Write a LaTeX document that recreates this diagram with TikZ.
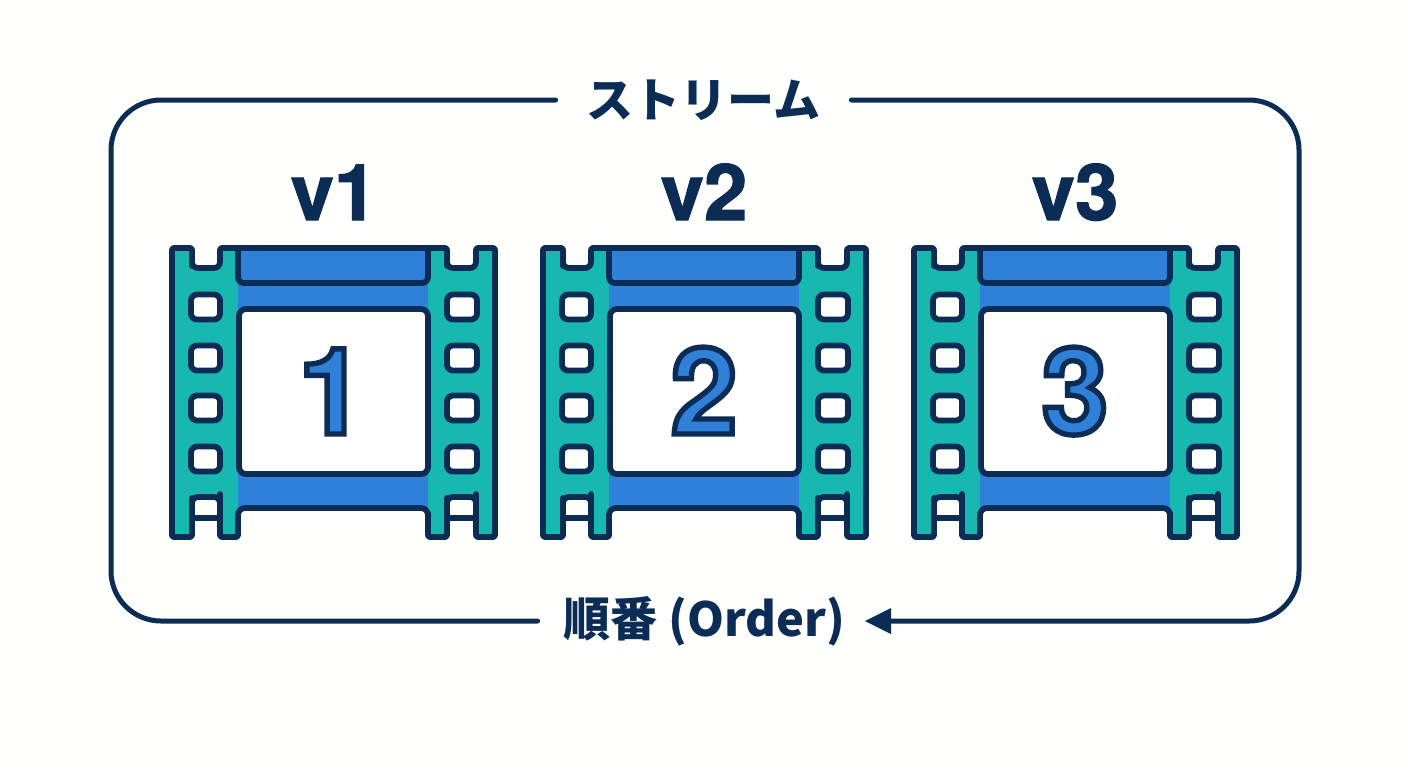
\documentclass[tikz,border=0pt]{standalone}
\usepackage{fontspec}
\setmainfont{TeX Gyre Heros}
\newfontfamily\jpfont{Noto Sans CJK JP}
\newfontfamily\numfont{TeX Gyre Heros Bold}[FakeBold=4.5]
\newfontfamily\verfont{TeX Gyre Heros Bold}[FakeBold=1.5]
\definecolor{ink}{HTML}{0B2C55}
\definecolor{tealfilm}{HTML}{17B8AF}
\definecolor{bluefilm}{HTML}{2F80D8}
\definecolor{paper}{HTML}{FEFEFC}
\newcommand{\outlined}[1]{{\color{bluefilm}\special{pdf:code 0.043 0.173 0.333 RG}\numfont #1}}
\newcommand{\filmoutline}{
  [rounded corners=1pt] (182,248)--(172,248)--(172,537)--(192,537)--(192,500)
  [rounded corners=3pt] --(192,497)--(220,497)--(220,500)
  [rounded corners=1pt] --(220,537)--(238,537)--(238,520)
  [rounded corners=3.5pt] --(238,508)--(428,508)--(428,520)
  [rounded corners=1pt] --(428,537)--(447,537)--(447,500)
  [rounded corners=3pt] --(447,497)--(476,497)--(476,500)
  [rounded corners=1pt] --(476,537)--(495,537)--(495,248)--(476,248)--(476,260)
  [rounded corners=3pt] --(476,268)--(447,268)--(447,260)
  [rounded corners=1pt] --(447,248)--(220,248)--(220,260)
  [rounded corners=3pt] --(220,268)--(192,268)--(192,260)
  [rounded corners=1pt] --(192,248)--cycle
}
\tikzset{
  x=0.5pt,y=-0.5pt,
  inkline/.style={draw=ink,line width=2.9pt,line join=round,line cap=round},
  frameline/.style={draw=ink,line width=2.5pt,line cap=round},
  perf/.style={inkline,fill=paper,rounded corners=3pt},
  verlabel/.style={text=ink,font=\verfont\fontsize{39}{39}\selectfont,anchor=base,inner sep=0pt},
  numlabel/.style={font=\fontsize{60}{60}\selectfont,anchor=base,inner sep=0pt},
  seclabel/.style={text=ink,font=\jpfont\bfseries\fontsize{23.5}{24}\selectfont,inner sep=0pt,minimum height=24pt},
  pics/film/.style={code={
    \path[fill=tealfilm] \filmoutline;
    \fill[bluefilm] (238,248) rectangle (428,508);
    \draw[inkline,rounded corners=3pt] (238,248)--(238,283)--(428,283)--(428,248);
    \draw[inkline] \filmoutline;
    \draw[inkline] (192,518)--(220,518) (447,518)--(476,518);
    \draw[inkline,fill=white,rounded corners=3.5pt] (239,309) rectangle (428,474);
    \foreach \yy in {307,358,408,459}{
      \draw[perf] (191,\yy-12.5) rectangle (220,\yy+12.5);
      \draw[perf] (447,\yy-12.5) rectangle (477,\yy+12.5);
    }
  }}
}
\begin{document}
\begin{tikzpicture}
\useasboundingbox (0,0) rectangle (1408,768);
\fill[paper] (0,0) rectangle (1408,768);

\node[seclabel,minimum width=147.5pt] (stream) at (703.5,100) {ストリーム};
\node[seclabel,minimum width=163pt] (order) at (701,621) {\hspace*{3.5pt}順番 (Order)};

\draw[frameline,rounded corners=25pt] (stream.west)--(111,100)--(111,621)--(order.west);
\draw[frameline,rounded corners=25pt] (stream.east)--(1299,100)--(1299,621)--(890,621);
\fill[ink] (865,621)--(891,608)--(891,634)--cycle;

\pic at (0,0) {film};
\pic at (371,0) {film};
\pic at (742,0) {film};

\node[verlabel] (v1) at (334,220) {v1};
\node[verlabel] (v2) at (704,220) {v2};
\node[verlabel] (v3) at (1075,220) {v3};

\node[numlabel] (n1) at (332,434) {\outlined{1}};
\node[numlabel] (n2) at (704,434) {\outlined{2}};
\node[numlabel] (n3) at (1075,434) {\outlined{3}};
\end{tikzpicture}
\end{document}
